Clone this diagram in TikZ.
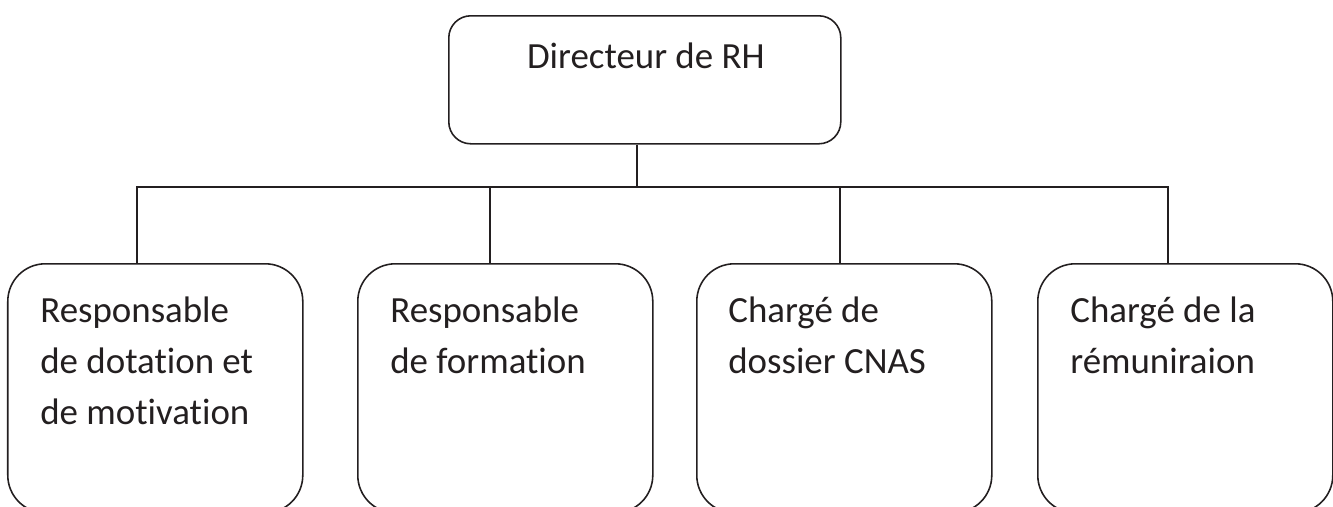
\documentclass[tikz,border=0pt]{standalone}
\usepackage{fontspec}
\setmainfont{Carlito}[Ligatures=CommonOff]
\usepackage{tikz}
\definecolor{ink}{HTML}{231F20}

\begin{document}
\begin{tikzpicture}[
    every node/.style={inner sep=0pt},
    chef/.style={draw=ink,line width=0.9pt,rounded corners=0.44cm,anchor=north west,minimum width=7.84cm,minimum height=2.56cm},
    poste/.style={draw=ink,line width=0.9pt,rounded corners=0.75cm,anchor=north west,minimum width=5.9cm,minimum height=4.98cm},
    intitule/.style={anchor=base west,align=left,font=\fontsize{21}{29}\selectfont,text=ink},
    lien/.style={draw=ink,line width=0.9pt}]
  \clip (0,0) rectangle (26.66,-10.12);
  % directeur
  \node[chef] (dir) at (8.96,-0.3) {};
  \node[intitule,anchor=base] (dirtxt) at ([xshift=0.02cm,yshift=-1.06cm]dir.north) {Directeur de RH};
  % postes (base = ligne du bas, 29pt par ligne)
  \node[poste] (dotation) at (0.14,-5.26) {};
  \node[poste] (formation) at (7.14,-5.26) {};
  \node[poste] (cnas) at (13.92,-5.26) {};
  \node[poste] (remun) at (20.74,-5.26) {};
  \node[intitule] (dotationtxt) at ([xshift=0.66cm,yshift=-3.22cm]dotation.north west) {Responsable\\de dotation et\\de motivation};
  \node[intitule] (formationtxt) at ([xshift=0.66cm,yshift=-2.2cm]formation.north west) {Responsable\\de formation};
  \node[intitule] (cnastxt) at ([xshift=0.64cm,yshift=-2.2cm]cnas.north west) {Chargé de\\dossier CNAS};
  \node[intitule] (remuntxt) at ([xshift=0.66cm,yshift=-2.2cm]remun.north west) {Chargé de la\\rémuniraion};
  % liaisons
  \coordinate (hub) at (12.74,-3.74);
  \coordinate (b1) at (2.74,-3.74);
  \coordinate (b2) at (9.8,-3.74);
  \coordinate (b3) at (16.8,-3.74);
  \coordinate (b4) at (23.36,-3.74);
  \draw[lien] (hub |- dir.south) -- (hub);
  \draw[lien] (b1 |- dotation.north) -- (b1) -- (b4) -- (b4 |- remun.north);
  \draw[lien] (b2) -- (b2 |- formation.north);
  \draw[lien] (b3) -- (b3 |- cnas.north);
\end{tikzpicture}
\end{document}
